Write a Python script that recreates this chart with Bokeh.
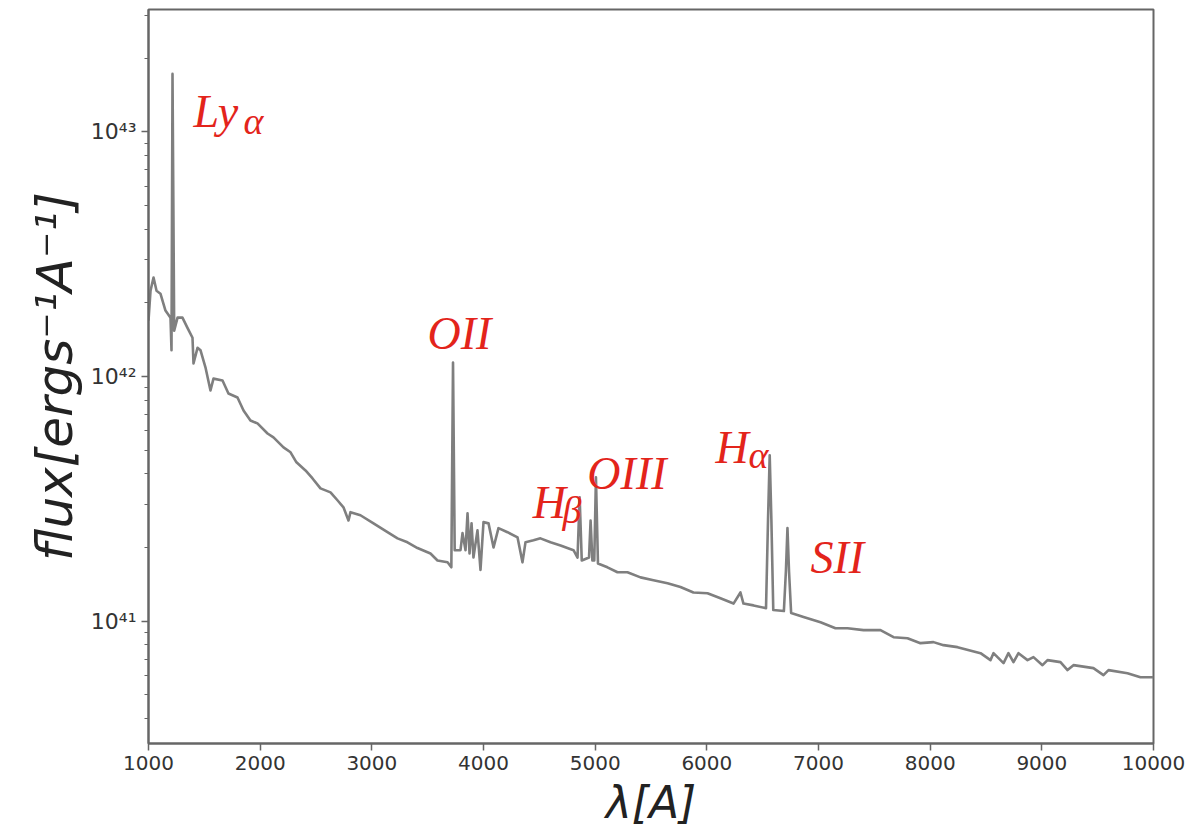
import numpy as np
from bokeh.plotting import figure
from bokeh.models import FixedTicker, ColumnDataSource
from bokeh.core.properties import value
from bokeh.embed import file_html
from bokeh.resources import INLINE

# Rest-frame spectrum: wavelength in Angstrom, flux in units of 1e41 erg/s/A
wavelength = [
    1000, 1018, 1045, 1072, 1107, 1152, 1197, 1206, 1215, 1230,
    1260, 1304, 1349, 1394, 1403, 1439, 1466, 1510, 1555, 1582,
    1663, 1716, 1797, 1851, 1913, 1976, 2066, 2119, 2209, 2272,
    2325, 2406, 2469, 2540, 2630, 2692, 2746, 2791, 2809, 2898,
    3015, 3140, 3230, 3319, 3409, 3525, 3588, 3678, 3712, 3727,
    3742, 3794, 3812, 3839, 3857, 3875, 3893, 3910, 3946, 3973,
    4000, 4045, 4090, 4134, 4215, 4305, 4349, 4376, 4448, 4510,
    4600, 4690, 4806, 4842, 4861, 4880, 4945, 4959, 4975, 4992,
    5007, 5025, 5110, 5200, 5289, 5406, 5522, 5648, 5764, 5880,
    6006, 6122, 6239, 6301, 6328, 6418, 6530, 6548, 6563, 6578,
    6595, 6690, 6708, 6722, 6736, 6755, 6866, 7018, 7152, 7260,
    7403, 7555, 7672, 7797, 7913, 8030, 8119, 8245, 8451, 8540,
    8567, 8657, 8701, 8746, 8791, 8872, 8925, 9006, 9051, 9167,
    9230, 9283, 9462, 9552, 9597, 9767, 9883, 10000,
]
flux_e41 = [
    16.9, 22.4, 25.4, 22.4, 21.8, 18.6, 17.4, 12.8, 172.5, 15.4,
    17.4, 17.4, 15.8, 14.4, 11.3, 13.1, 12.8, 10.9, 8.77, 9.8,
    9.63, 8.52, 8.21, 7.26, 6.61, 6.43, 5.85, 5.64, 5.13, 4.90,
    4.46, 4.13, 3.83, 3.49, 3.36, 3.12, 2.92, 2.58, 2.79, 2.71,
    2.51, 2.31, 2.18, 2.10, 1.99, 1.89, 1.77, 1.74, 1.66, 11.4,
    1.95, 1.95, 2.29, 1.95, 2.76, 1.89, 2.51, 1.82, 2.35, 1.62,
    2.54, 2.51, 2.00, 2.40, 2.31, 2.20, 1.74, 2.10, 2.14, 2.18,
    2.10, 2.04, 1.95, 1.82, 3.21, 1.77, 1.82, 2.58, 1.77, 1.77,
    3.87, 1.72, 1.66, 1.585, 1.585, 1.51, 1.47, 1.43, 1.38, 1.31,
    1.30, 1.24, 1.18, 1.31, 1.18, 1.16, 1.13, 2.6, 4.76, 2.6,
    1.11, 1.10, 1.6, 2.40, 1.6, 1.08, 1.04, 0.99, 0.936, 0.936,
    0.919, 0.919, 0.86, 0.852, 0.813, 0.821, 0.798, 0.783, 0.740, 0.693,
    0.740, 0.674, 0.740, 0.680, 0.740, 0.693, 0.713, 0.661, 0.693, 0.680,
    0.631, 0.661, 0.643, 0.602, 0.631, 0.613, 0.590, 0.590,
]

# Emission-line annotations (main text and subscript parts)
line_names = ["Ly", "OII", "H", "OIII", "H", "SII"]
line_label_x = [1403, 3498, 4440, 4930, 6077, 6928]
line_label_y = [1.207e43, 1.50e42, 3.06e41, 4.0e41, 5.13e41, 1.82e41]
sub_names = ["α", "β", "α"]
sub_label_x = [1851, 4707, 6373]
sub_label_y = [1.11e43, 2.84e41, 4.76e41]

x_ticks = [1000, 2000, 3000, 4000, 5000, 6000, 7000, 8000, 9000, 10000]
y_ticks = [1e41, 1e42, 1e43]
y_tick_labels = ["10⁴¹", "10⁴²", "10⁴³"]

flux = np.array(flux_e41) * 1e41
src = ColumnDataSource(dict(wl=wavelength, flux=flux))

p = figure(
    width=1194, height=833,
    x_range=(1000, 10000), y_range=(10 ** 40.5, 10 ** 43.5),
    y_axis_type="log",
    output_backend="svg", toolbar_location=None,
    min_border_left=148, min_border_right=41,
    min_border_top=9, min_border_bottom=90,
)
p.background_fill_color = "white"
p.border_fill_color = "white"
p.grid.visible = False
p.outline_line_color = "#666666"
p.outline_line_width = 2

p.line("wl", "flux", source=src, line_color="#7f7f7f", line_width=2.6,
       line_join="round")

# axes
axis_color = "#666666"
minor = [m * 10 ** e for e in (40, 41, 42, 43) for m in range(2, 10)]
p.yaxis.ticker = FixedTicker(ticks=y_ticks, minor_ticks=minor)
p.yaxis.major_label_overrides = {t: s for t, s in zip(y_ticks, y_tick_labels)}
p.xaxis.ticker = FixedTicker(ticks=x_ticks, minor_ticks=[])
p.xaxis.major_label_overrides = {t: str(t) for t in x_ticks}

for ax in (p.xaxis, p.yaxis):
    ax.axis_line_color = axis_color
    ax.axis_line_width = 2
    ax.major_tick_line_color = axis_color
    ax.minor_tick_line_color = axis_color
    ax.major_tick_line_width = 1.5
    ax.minor_tick_line_width = 1.2
    ax.major_tick_out = 7
    ax.major_tick_in = 0
    ax.minor_tick_out = 4
    ax.minor_tick_in = 0
    ax.major_label_text_font = "DejaVu Sans"
    ax.major_label_text_font_size = "20px"
    ax.major_label_text_color = "#333333"
    ax.axis_label_text_font = "DejaVu Sans"
    ax.axis_label_text_font_style = "italic"
    ax.axis_label_text_color = "#222222"

p.yaxis.major_label_text_font_size = "22px"
p.xaxis.axis_label = "λ[A]"
p.xaxis.axis_label_text_font_size = "44px"
p.xaxis.axis_label_standoff = 4
p.yaxis.axis_label = "flux[ergs⁻¹A⁻¹]"
p.yaxis.axis_label_text_font_size = "50px"
p.yaxis.axis_label_standoff = 4

red = "#e3241b"
p.text(x=line_label_x, y=line_label_y, text=line_names,
       text_font=value("Liberation Serif"), text_font_style="italic",
       text_font_size="46px", text_color=red,
       text_align="left", text_baseline="alphabetic")
p.text(x=sub_label_x, y=sub_label_y, text=sub_names,
       text_font=value("Liberation Serif"), text_font_style="italic",
       text_font_size="38px", text_color=red,
       text_align="left", text_baseline="alphabetic")

open("out.html", "w").write(file_html(p, INLINE))
